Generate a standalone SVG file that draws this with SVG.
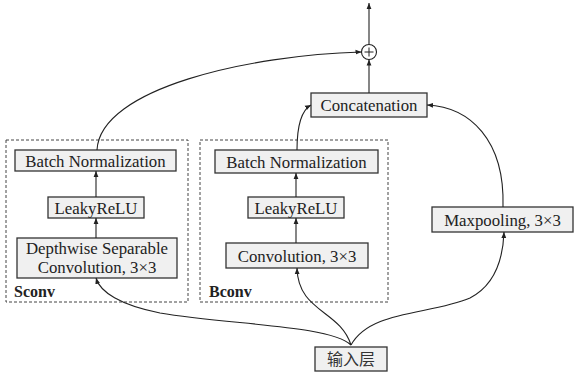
<svg xmlns="http://www.w3.org/2000/svg" width="575" height="374" viewBox="0 0 575 374">
<defs>
<style>
.box{fill:#f0f0f0;stroke:#333;stroke-width:1.3}
.grp{fill:none;stroke:#444;stroke-width:1;stroke-dasharray:3,2}
.t{font-size:16.8px;fill:#222;text-anchor:middle}
.lbl{font-size:16px;font-weight:bold;fill:#222}
.cjk{font-size:16px;fill:#333;text-anchor:middle}
.c{fill:none;stroke:#222;stroke-width:1.1;marker-end:url(#ah)}
</style>
<marker id="ah" viewBox="0 0 10 10" refX="10" refY="5" markerWidth="6" markerHeight="6" orient="auto" markerUnits="userSpaceOnUse">
<path d="M0,1 L10,5 L0,9 z" fill="#222"/>
</marker>
</defs>
<rect width="575" height="374" fill="#fff"/>
<g font-family="Liberation Serif, Times New Roman, serif">
<g id="sconv">
<rect class="grp" x="6" y="140" width="182" height="162"/>
<text class="lbl" x="14" y="297">Sconv</text>
</g>
<g id="bconv">
<rect class="grp" x="200" y="140" width="188" height="162"/>
<text class="lbl" x="209" y="297">Bconv</text>
</g>
<g id="s_bn">
<rect class="box" x="15" y="150" width="161" height="21"/>
<text class="t" x="95.5" y="166.5">Batch Normalization</text>
</g>
<g id="s_relu">
<rect class="box" x="48" y="197" width="96" height="21"/>
<text class="t" x="96" y="213.5">LeakyReLU</text>
</g>
<g id="s_dsc">
<rect class="box" x="17" y="238" width="160" height="40"/>
<text class="t" x="97" y="254">Depthwise Separable</text>
<text class="t" x="97" y="273">Convolution, 3×3</text>
</g>
<g id="b_bn">
<rect class="box" x="215" y="150" width="163" height="23"/>
<text class="t" x="296.5" y="167.5">Batch Normalization</text>
</g>
<g id="b_relu">
<rect class="box" x="248" y="197" width="96" height="21"/>
<text class="t" x="296" y="213.5">LeakyReLU</text>
</g>
<g id="b_conv">
<rect class="box" x="226" y="243" width="142" height="25"/>
<text class="t" x="297" y="261.5">Convolution, 3×3</text>
</g>
<g id="concat">
<rect class="box" x="311" y="93" width="116" height="24"/>
<text class="t" x="369" y="110.5">Concatenation</text>
</g>
<g id="maxpool">
<rect class="box" x="432" y="207" width="141" height="25"/>
<text class="t" x="502.5" y="225.5">Maxpooling, 3×3</text>
</g>
<g id="input">
<rect class="box" x="315" y="347" width="72" height="24"/>
<text class="cjk" x="351" y="365" font-family="Liberation Serif, Noto Sans CJK SC, serif">输入层</text>
</g>
</g>
<g id="plus">
<circle cx="369" cy="52" r="7.5" fill="#fff" stroke="#222" stroke-width="1.1"/>
<path d="M364.5,52 H373.5 M369,47.5 V56.5" stroke="#222" stroke-width="1"/>
</g>
<g id="connectors">
<path class="c" d="M96,197 V171"/>
<path class="c" d="M96,238 V218"/>
<path class="c" d="M296,197 V173"/>
<path class="c" d="M296,243 V218"/>
<path class="c" d="M369,93 V59.5"/>
<path class="c" d="M369,44.5 V3"/>
<path class="c" d="M97,150 C100,88 250,55 361.5,52"/>
<path class="c" d="M297,150 C297,125 302,110 311,105"/>
<path class="c" d="M503,207 C505,140 470,107 427,105"/>
<path class="c" d="M351,345 C330,325 230,325 160,313 C120,305 100,292 96,278"/>
<path class="c" d="M351,345 C340,310 298,312 297,268"/>
<path class="c" d="M351,345 C370,310 430,315 470,298 C495,285 503,260 504,232"/>
</g>
</svg>
